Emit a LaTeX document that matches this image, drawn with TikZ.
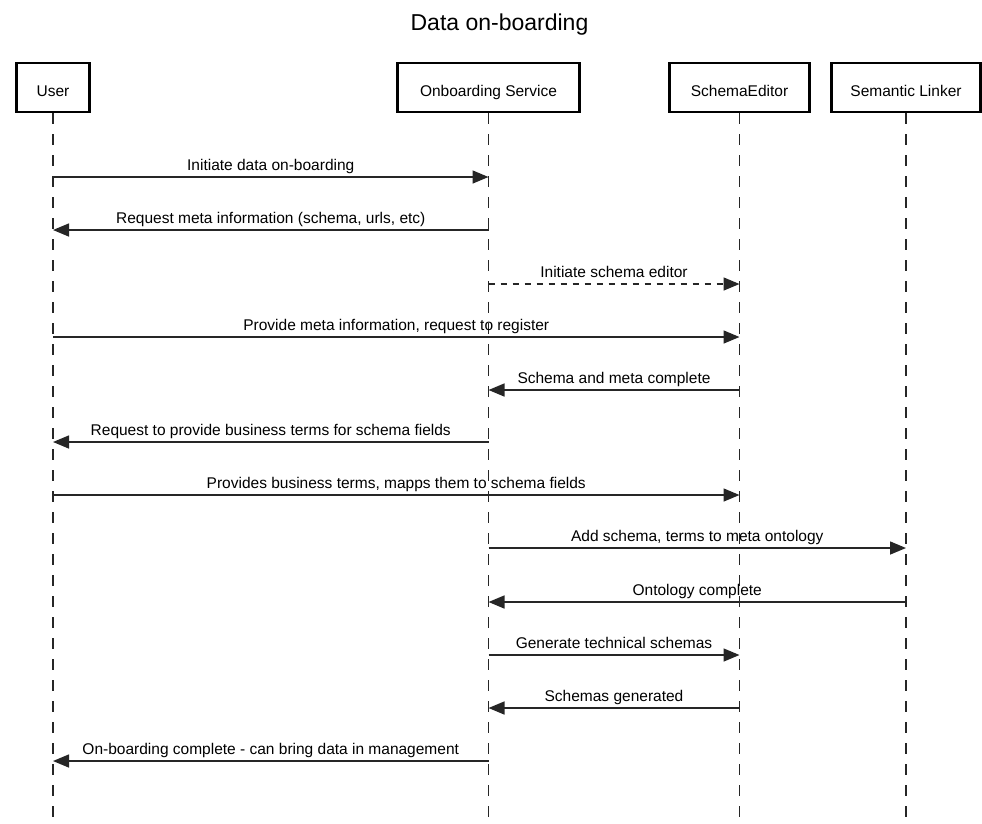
\documentclass[tikz,border=0pt]{standalone}
\usepackage{fontspec}
\setmainfont{Liberation Sans}
\usetikzlibrary{arrows.meta}

% one message between two lifelines: [style]{from}{to}{y}{label}
\newcommand\seqmsg[5][msg]{%
  \draw[#1] (#2 |- 0,#4) -- (#3 |- 0,#4) node[midway, msglabel] {#5};}

\begin{document}
\begin{tikzpicture}[x=1pt, y=-1pt,
  actor/.style={draw, line width=2.6pt, minimum height=49pt, inner sep=0pt,
    text height=17pt, text depth=0pt,
    font=\fontsize{15.5}{18}\selectfont},
  lifeline/.style={line width=1.4pt, draw=black!85, dash pattern=on 11pt off 10pt},
  msg/.style={line width=1.5pt, draw=black!85, -{Triangle[length=16pt,width=13pt]}},
  dmsg/.style={msg, dash pattern=on 6pt off 6pt},
  msglabel/.style={anchor=base, yshift=7pt, inner sep=0pt, text=black,
    font=\fontsize{15.5}{18}\selectfont}
]
\useasboundingbox (0,0) rectangle (982,823);

% title
\node[anchor=base, font=\fontsize{23}{27}\selectfont] (title) at (499.5,30) {Data on-boarding};

% participants
\node[actor, minimum width=73.5pt]  (user) at (53,87.5)  {User};
\node[actor, minimum width=181.5pt] (onb)  at (488.5,87.5) {Onboarding Service};
\node[actor, minimum width=140.5pt] (se)   at (739.5,87.5) {SchemaEditor};
\node[actor, minimum width=149.5pt] (sl)   at (906,87.5) {Semantic Linker};

% lifelines
\foreach \p in {user, onb, se, sl}
  \draw[lifeline] (\p.south) -- (\p |- 0,823);

% messages
\seqmsg{user}{onb}{177}{Initiate data on-boarding}
\seqmsg{onb}{user}{230}{Request meta information (schema, urls, etc)}
\seqmsg[dmsg]{onb}{se}{284}{Initiate schema editor}
\seqmsg{user}{se}{337}{Provide meta information, request to register}
\seqmsg{se}{onb}{390}{Schema and meta complete}
\seqmsg{onb}{user}{442}{Request to provide business terms for schema fields}
\seqmsg{user}{se}{495}{Provides business terms, mapps them to schema fields}
\seqmsg{onb}{sl}{548}{Add schema, terms to meta ontology}
\seqmsg{sl}{onb}{602}{Ontology complete}
\seqmsg{onb}{se}{655}{Generate technical schemas}
\seqmsg{se}{onb}{708}{Schemas generated}
\seqmsg{onb}{user}{761}{On-boarding complete - can bring data in management}
\end{tikzpicture}
\end{document}
